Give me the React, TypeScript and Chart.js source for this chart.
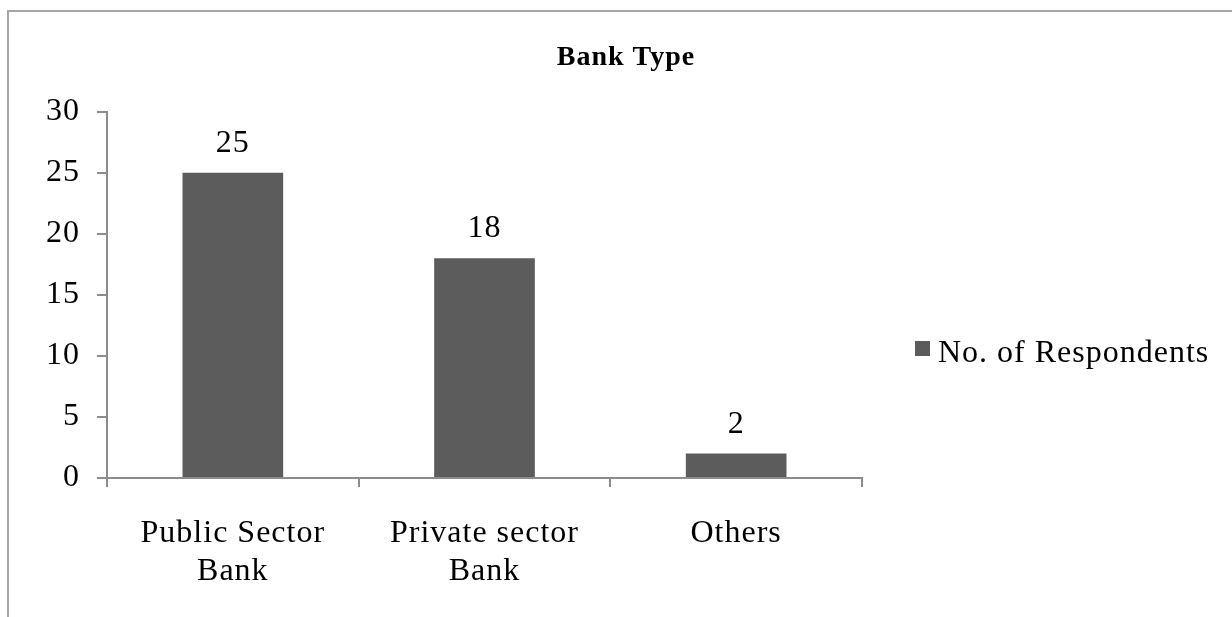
import React, { useEffect, useRef } from "react";
import { Chart, registerables } from "chart.js";

Chart.register(...registerables);

const chartTitle = "Bank Type";
const categories = [["Public Sector", "Bank"], ["Private sector", "Bank"], ["Others"]];
const seriesLabel = "No. of Respondents";
const values = [25, 18, 2];
const yMin = 0;
const yMax = 30;
const yStep = 5;

const FONT = "'Liberation Serif', 'Times New Roman', serif";
const BAR_COLOR = "#5c5c5c";
const AXIS_COLOR = "#8c8c8c";

const spacing = {
  id: "spacing",
  beforeDraw(chart: any) {
    chart.ctx.letterSpacing = "1px";
  },
};

const valueLabels = {
  id: "valueLabels",
  afterDatasetsDraw(chart: any) {
    const ctx = chart.ctx;
    const meta = chart.getDatasetMeta(0);
    const data = chart.data.datasets[0].data;
    ctx.save();
    ctx.letterSpacing = "1px";
    ctx.font = `32px ${FONT}`;
    ctx.fillStyle = "#000";
    ctx.textAlign = "center";
    ctx.textBaseline = "alphabetic";
    meta.data.forEach((bar: any, i: number) => {
      ctx.fillText(String(data[i]), bar.x, bar.y - 21);
    });
    ctx.restore();
  },
};

const sideLegend = {
  id: "sideLegend",
  afterDraw(chart: any) {
    const ds = chart.data.datasets[0];
    const ctx = chart.ctx;
    const area = chart.chartArea;
    const x0 = area.right + 53;
    const yBase = area.bottom - 116;
    ctx.save();
    ctx.fillStyle = ds.backgroundColor;
    ctx.fillRect(x0, yBase - 21, 15, 15);
    ctx.letterSpacing = "1px";
    ctx.font = `32px ${FONT}`;
    ctx.fillStyle = "#000";
    ctx.textAlign = "left";
    ctx.textBaseline = "alphabetic";
    ctx.fillText(ds.label, x0 + 23, yBase);
    ctx.restore();
    ctx.letterSpacing = "0px";
  },
};

export default function App() {
  const ref = useRef<HTMLCanvasElement | null>(null);

  useEffect(() => {
    if (!ref.current) return;
    const chart = new Chart(ref.current, {
      type: "bar",
      data: {
        labels: categories,
        datasets: [
          {
            label: seriesLabel,
            data: values,
            backgroundColor: BAR_COLOR,
            borderWidth: 0,
            barPercentage: 0.4,
            categoryPercentage: 1,
            yAxisID: "y",
          },
        ],
      },
      options: {
        responsive: false,
        animation: false,
        devicePixelRatio: 1,
        layout: { padding: { left: 20, right: 0, top: 0, bottom: 0 } },
        plugins: {
          legend: { display: false },
          tooltip: { enabled: false },
          title: {
            display: true,
            text: chartTitle,
            color: "#000",
            font: { family: FONT, size: 28, weight: "bold", lineHeight: 1.2 },
            padding: { top: 41, bottom: 37 },
          },
        },
        scales: {
          x: {
            grid: {
              display: true,
              drawOnChartArea: false,
              drawTicks: true,
              tickLength: 9,
              color: AXIS_COLOR,
              lineWidth: 2,
              offset: true,
            },
            border: { display: true, color: AXIS_COLOR, width: 2 },
            ticks: {
              color: "#000",
              font: { family: FONT, size: 32, lineHeight: 1.2 },
              padding: 27,
              maxRotation: 0,
              autoSkip: false,
            },
            afterFit(scale: any) {
              scale.height = 139;
            },
          },
          y: {
            min: yMin,
            max: yMax,
            grid: {
              display: true,
              drawOnChartArea: false,
              drawTicks: true,
              tickLength: 10,
              color: AXIS_COLOR,
              lineWidth: 2,
            },
            border: { display: true, color: AXIS_COLOR, width: 2 },
            ticks: {
              stepSize: yStep,
              color: "#000",
              font: { family: FONT, size: 32 },
              padding: 17,
            },
            afterFit(scale: any) {
              scale.width = 87;
            },
          },
          legendSpace: {
            type: "linear",
            position: "right",
            display: true,
            grid: { display: false, drawTicks: false },
            border: { display: false },
            ticks: { display: false },
            afterFit(scale: any) {
              scale.width = 370;
            },
          },
        },
      },
      plugins: [spacing, valueLabels, sideLegend],
    });
    return () => chart.destroy();
  }, []);

  return (
    <div
      style={{
        position: "fixed",
        left: 0,
        top: 0,
        width: 1232,
        height: 617,
        overflow: "hidden",
        background: "#fff",
      }}
    >
      <div
        style={{
          position: "absolute",
          left: 7,
          top: 10,
          width: 2000,
          height: 2000,
          borderTop: "2px solid #a6a6a6",
          borderLeft: "2px solid #a6a6a6",
        }}
      />
      <canvas
        ref={ref}
        width={1232}
        height={617}
        style={{ position: "absolute", left: 0, top: 0, width: 1232, height: 617 }}
      />
    </div>
  );
}
